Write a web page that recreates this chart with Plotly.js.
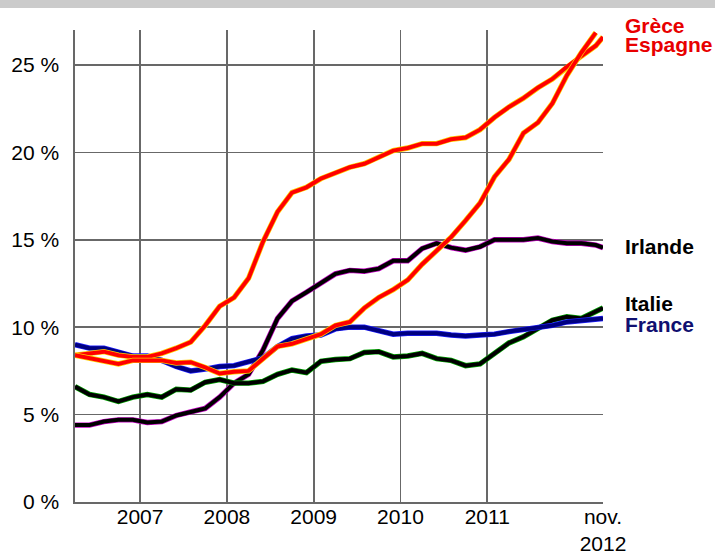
<!DOCTYPE html>
<html>
<head>
<meta charset="utf-8">
<script src="https://cdn.plot.ly/plotly-3.0.1.min.js"></script>
<style>
  html, body { margin: 0; padding: 0; background: #ffffff; }
  #chart { width: 715px; height: 553px; }
</style>
</head>
<body>
<div id="chart"></div>
<script>
// Month index from April 2006 (0) to the last month shown
const months = [0,2,4,6,8,10,12,14,16,18,20,22,24,26,28,30,32,34,36,38,40,42,44,46,48,50,52,54,56,58,60,62,64,66,68,70,72,73];
const monthsGreece = [0,2,4,6,8,10,12,14,16,18,20,22,24,26,28,30,32,34,36,38,40,42,44,46,48,50,52,54,56,58,60,62,64,66,68,70,72];

const tickMonths = [9, 21, 33, 45, 57, 73];
const tickLabels = ["2007", "2008", "2009", "2010", "2011", "nov.<br>2012"];
const yTicks = [0, 5, 10, 15, 20, 25];
const yTickLabels = ["0 %", "5 %", "10 %", "15 %", "20 %", "25 %"];

const grece = [8.4,8.25,8.1,7.9,8.1,8.1,8.1,7.95,8.0,7.7,7.35,7.45,7.5,8.2,8.9,9.05,9.3,9.6,10.1,10.3,11.1,11.7,12.15,12.7,13.6,14.4,15.15,16.1,17.1,18.6,19.6,21.1,21.7,22.8,24.4,25.7,26.85];
const espagne = [8.4,8.5,8.6,8.4,8.3,8.3,8.5,8.8,9.15,10.1,11.2,11.7,12.8,14.9,16.6,17.7,18.0,18.5,18.85,19.15,19.35,19.7,20.1,20.25,20.5,20.5,20.75,20.85,21.3,22.0,22.6,23.1,23.7,24.2,24.9,25.5,26.1,26.6];
const irlande = [4.4,4.4,4.6,4.7,4.7,4.55,4.6,4.95,5.15,5.35,6.0,6.8,7.3,8.7,10.5,11.5,12.0,12.5,13.05,13.25,13.2,13.35,13.8,13.8,14.5,14.8,14.55,14.4,14.6,15.0,15.0,15.0,15.1,14.9,14.8,14.8,14.7,14.55];
const italie = [6.6,6.15,6.0,5.75,6.0,6.15,6.0,6.45,6.4,6.85,7.0,6.8,6.8,6.9,7.3,7.55,7.4,8.05,8.15,8.2,8.55,8.6,8.3,8.35,8.5,8.2,8.1,7.8,7.9,8.5,9.1,9.45,9.9,10.4,10.6,10.5,10.9,11.1];
const france = [9.0,8.8,8.8,8.6,8.35,8.35,8.1,7.75,7.5,7.6,7.75,7.8,8.0,8.25,8.9,9.35,9.5,9.55,9.9,10.0,10.0,9.8,9.6,9.65,9.65,9.65,9.55,9.5,9.55,9.6,9.75,9.85,10.0,10.1,10.3,10.4,10.45,10.5];

const seriesNames = ["Grèce", "Espagne", "Irlande", "Italie", "France"];
// label centre heights, in paper fraction of plot height
const labelY = [1.0093, 0.9703, 0.5403, 0.4210, 0.3761];
const labelColors = ["#e80000", "#e80000", "#000000", "#000000", "#101070"];

const series = [
  {name: "Irlande", x: months, y: irlande, halo: "#c000c0", core: "#000000"},
  {name: "Italie", x: months, y: italie, halo: "#00a000", core: "#000000"},
  {name: "France", x: months, y: france, halo: "#2020ff", core: "#000080"},
  {name: "Espagne", x: months, y: espagne, halo: "#ffd000", core: "#ff0000"},
  {name: "Grèce", x: monthsGreece, y: grece, halo: "#ffd000", core: "#ff0000"}
];

const traces = [];
series.forEach(s => {
  traces.push({x: s.x, y: s.y, type: "scatter", mode: "lines", name: s.name,
    line: {color: s.halo, width: 5.4, shape: "linear"}, hoverinfo: "skip", showlegend: false});
  traces.push({x: s.x, y: s.y, type: "scatter", mode: "lines", name: s.name,
    line: {color: s.core, width: 4, shape: "linear"}, showlegend: false});
});

const fontFam = "Liberation Sans, Arial, sans-serif";

const annotations = seriesNames.map((n, i) => ({
  text: n, xref: "paper", yref: "paper", x: 1.04, y: labelY[i],
  xanchor: "left", yanchor: "middle", showarrow: false, borderpad: 0,
  font: {family: fontFam, size: 21, color: labelColors[i], weight: "bold"}
}));

const layout = {
  width: 715, height: 553,
  margin: {l: 75, r: 112, t: 30, b: 51, pad: 0},
  paper_bgcolor: "#ffffff", plot_bgcolor: "#ffffff",
  showlegend: false,
  font: {family: fontFam, size: 21, color: "#000000"},
  xaxis: {
    range: [0, 73], tickmode: "array", tickvals: tickMonths, ticktext: tickLabels,
    showgrid: true, gridcolor: "#686868", gridwidth: 1.7,
    showline: true, linecolor: "#686868", linewidth: 1.7,
    zeroline: false, ticks: "", ticklabelstandoff: -5,
    tickfont: {family: fontFam, size: 21, color: "#000000"}, fixedrange: true
  },
  yaxis: {
    range: [0, 27], tickmode: "array", tickvals: yTicks, ticktext: yTickLabels,
    showgrid: true, gridcolor: "#686868", gridwidth: 1.7,
    showline: true, linecolor: "#686868", linewidth: 1.7,
    zeroline: false, ticks: "", ticklabelstandoff: 10,
    tickfont: {family: fontFam, size: 21, color: "#000000"}, fixedrange: true
  },
  shapes: [
    {type: "rect", xref: "paper", yref: "paper", x0: -0.15, x1: 1.22,
     y0: (502 - 8) / 472, y1: 1.07, fillcolor: "#cbcbcb", line: {width: 0}, layer: "below"}
  ],
  annotations: annotations
};

Plotly.newPlot("chart", traces, layout, {displayModeBar: false, staticPlot: true});
</script>
</body>
</html>
